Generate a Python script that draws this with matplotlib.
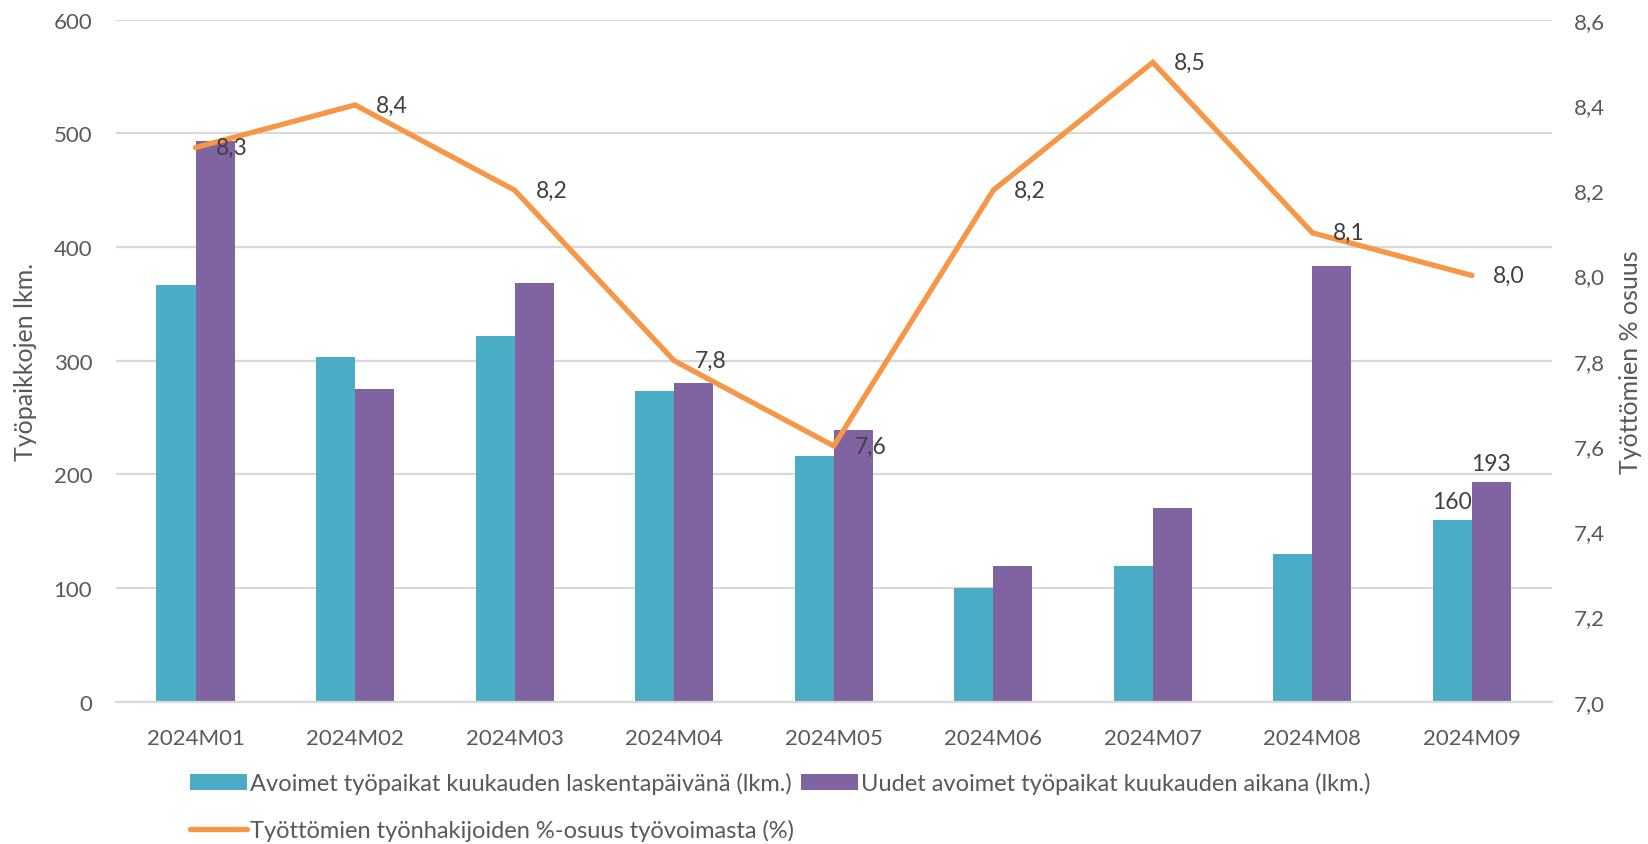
import matplotlib
matplotlib.use("Agg")
import matplotlib.pyplot as plt
import numpy as np
from matplotlib.lines import Line2D
from matplotlib.patches import Patch

months = ["2024M01", "2024M02", "2024M03", "2024M04", "2024M05", "2024M06", "2024M07", "2024M08", "2024M09"]
open_jobs = [367, 303, 322, 273, 216, 100, 119, 130, 160]
new_jobs = [493, 275, 368, 280, 239, 119, 170, 383, 193]
unemployment = [8.3, 8.4, 8.2, 7.8, 7.6, 8.2, 8.5, 8.1, 8.0]

name_open = "Avoimet työpaikat kuukauden laskentapäivänä (lkm.)"
name_new = "Uudet avoimet työpaikat kuukauden aikana (lkm.)"
name_rate = "Työttömien työnhakijoiden %-osuus työvoimasta (%)"

TEAL = "#4BACC6"
PURPLE = "#8064A2"
ORANGE = "#F79646"
TEXT = "#595959"
LABEL = "#404040"
GRID = "#D9D9D9"

plt.rcParams["font.family"] = ["Lato", "DejaVu Sans"]


def fi(value: float, decimals: int = 1) -> str:
    return f"{value:.{decimals}f}".replace(".", ",")


def main() -> None:
    fig = plt.figure(figsize=(16.49, 8.45), dpi=100)
    ax = fig.add_axes([0.0702, 0.1684, 0.8708, 0.8071])
    ax2 = ax.twinx()

    positions = np.arange(len(months))
    width = 0.245
    ax.bar(positions - width / 2, open_jobs, width=width, color=TEAL, zorder=2)
    ax.bar(positions + width / 2, new_jobs, width=width, color=PURPLE, zorder=2)

    ax.set_ylim(0, 600)
    ax.set_yticks(range(0, 601, 100))
    ax.set_xlim(-0.5, len(months) - 0.5)
    ax.set_xticks(positions)
    ax.set_xticklabels(months)
    ax.grid(True, axis="y", color=GRID, linewidth=1.6, zorder=0)
    ax.set_axisbelow(True)
    for side in ["top", "left", "right"]:
        ax.spines[side].set_visible(False)
        ax2.spines[side].set_visible(False)
    ax.spines["bottom"].set_color(GRID)
    ax.spines["bottom"].set_linewidth(1.6)
    ax2.spines["bottom"].set_visible(False)
    ax.tick_params(axis="both", length=0, labelsize=16, labelcolor=TEXT)
    ax.tick_params(axis="x", pad=19)
    ax.tick_params(axis="y", pad=17)
    ax.set_ylabel("Työpaikkojen lkm.", fontsize=18, color=TEXT, labelpad=12)

    # only the last month gets bar labels
    last = len(months) - 1
    ax.annotate(str(open_jobs[last]), (positions[last] - width / 2, open_jobs[last]),
                xytext=(0, 6), textcoords="offset points", ha="center", va="bottom",
                fontsize=16.5, color=LABEL)
    ax.annotate(str(new_jobs[last]), (positions[last] + width / 2, new_jobs[last]),
                xytext=(0, 6), textcoords="offset points", ha="center", va="bottom",
                fontsize=16.5, color=LABEL)

    ax2.plot(positions, unemployment, color=ORANGE, linewidth=3.8, solid_capstyle="round",
             solid_joinstyle="miter", zorder=3)
    ax2.set_ylim(7.0, 8.6)
    ax2.set_yticks(np.arange(7.0, 8.61, 0.2))
    ax2.set_yticklabels([fi(v) for v in np.arange(7.0, 8.61, 0.2)])
    ax2.tick_params(axis="y", length=0, labelsize=16, labelcolor=TEXT, pad=16)
    ax2.set_ylabel("Työttömien % osuus", fontsize=18, color=TEXT, labelpad=10)
    for x, v in zip(positions, unemployment):
        ax2.annotate(fi(v), (x, v), xytext=(15, 0), textcoords="offset points",
                     ha="left", va="center", fontsize=16.5, color=LABEL)

    handles = [
        Patch(facecolor=TEAL, edgecolor="none"),
        Line2D([0], [0], color=ORANGE, linewidth=3.8, solid_capstyle="round"),
        Patch(facecolor=PURPLE, edgecolor="none"),
    ]
    labels = [name_open, name_rate, name_new]
    fig.legend(handles, labels, loc="upper left", bbox_to_anchor=(0.1152, 0.085),
               ncol=2, frameon=False, fontsize=17, labelcolor=TEXT,
               handlelength=2.4, handleheight=0.65, handletextpad=0.15,
               columnspacing=0.3, labelspacing=1.05, borderaxespad=0, borderpad=0)

    fig.savefig("out.png", dpi=100)
    plt.close(fig)


if __name__ == "__main__":
    main()
